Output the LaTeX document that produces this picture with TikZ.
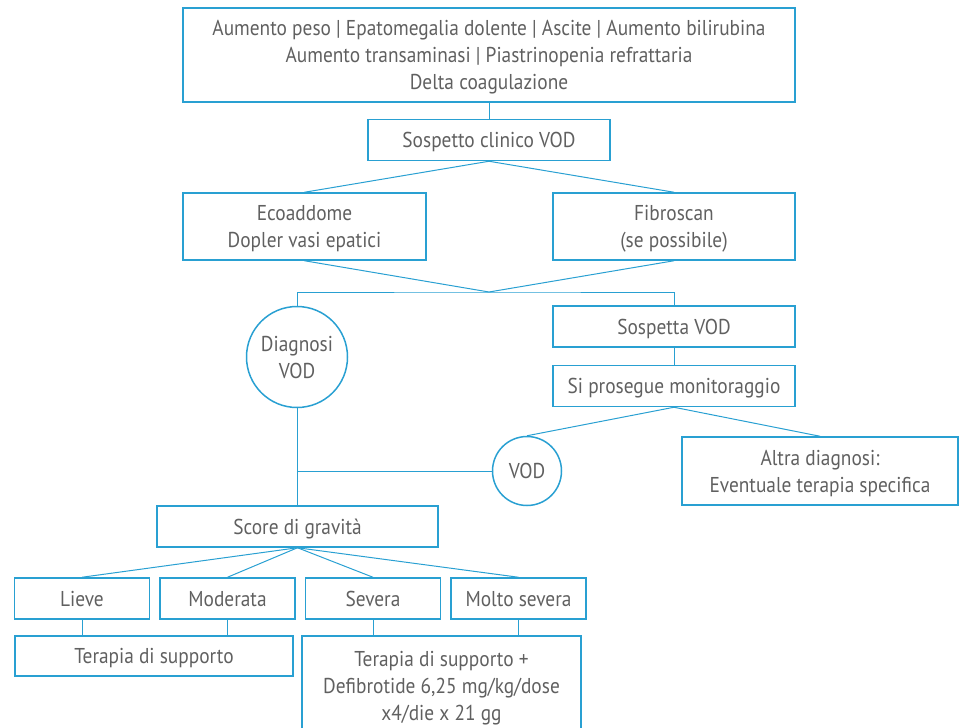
\documentclass[tikz,border=0pt]{standalone}
\usepackage{fontspec}
\setmainfont[FakeStretch=0.9]{PT Sans}
\usetikzlibrary
  {
    positioning,              % place nodes relative to other nodes
  }
\definecolor{linea}{HTML}{29A0D2}
\definecolor{testo}{HTML}{606060}

\begin{document}
\begin{tikzpicture}
    [
      x=1pt, y=-1pt,
      every node/.style=
        {
          font=\fontsize{21.5}{27}\selectfont,
          text=testo,
          align=center,
          inner sep=0pt,
          text depth=0pt,
        },
      casella/.style=
        {
          rectangle,
          draw=linea,
          line width=1.5pt,
          minimum height=41pt,
        },
      cerchio/.style=
        {
          circle,
          draw=linea,
          line width=1.5pt,
        },
      filo/.style=
        {
          draw=linea,
          line width=1pt,
        },
    ]
    \clip (0,0) rectangle (959,728);

    % parte alta
    \node[casella, minimum width=612pt, minimum height=94pt] (sintomi) at (489,55)
      {Aumento peso | Epatomegalia dolente | Ascite | Aumento bilirubina\\
       Aumento transaminasi | Piastrinopenia refrattaria\\
       Delta coagulazione};
    \node[casella, minimum width=242pt] (clinico) [below=16pt of sintomi] {Sospetto clinico VOD};
    \node[casella, minimum width=243pt, minimum height=67pt] (eco)   at (304.5,226.5)
      {Ecoaddome\\Dopler vasi epatici};
    \node[casella, minimum width=242pt, minimum height=67pt] (fibro) at (674,226.5)
      {Fibroscan\\(se possibile)};
    \coordinate (giunzione) at (489,292);

    % diagnosi
    \node[cerchio, minimum size=101pt] (diagnosi) at (297,357) {Diagnosi\\VOD};
    \node[casella, minimum width=242pt] (sospetta) at (674,326.5) {Sospetta VOD};
    \node[casella, minimum width=242pt] (prosegue) [below=17pt of sospetta] {Si prosegue monitoraggio};
    \node[cerchio, minimum size=69pt]  (vod)      at (527,471) {VOD};
    \node[casella, minimum width=276pt, minimum height=68pt] (altra) at (820,471)
      {Altra diagnosi:\\Eventuale terapia specifica};

    % gravita
    \node[casella, minimum width=281pt] (score) at (297.5,526.5) {Score di gravità};
    \node[casella, minimum width=135pt] (lieve)    at (82,598.5) {Lieve};
    \node[casella, minimum width=135pt] (moderata) [right=9pt of lieve]    {Moderata};
    \node[casella, minimum width=135pt] (severa)   [right=9pt of moderata] {Severa};
    \node[casella, minimum width=135pt] (molto)    [right=9pt of severa]   {Molto severa};
    \node[casella, minimum width=278pt, minimum height=40pt] (supporto) at (154,656) {Terapia di supporto};
    \node[casella, minimum width=279pt, minimum height=100pt] (defibro) at (441.5,686)
      {Terapia di supporto +\\Defibrotide 6,25 mg/kg/dose\\x4/die x 21 gg};

    \draw[filo] (sintomi) -- (clinico);
    \draw[filo] (eco.north) -- (clinico.south) -- (fibro.north);
    \draw[filo] (eco.south) -- (giunzione) -- (fibro.south);
    \draw[filo] (diagnosi.north) |- (giunzione) -| (sospetta.north);
    \draw[filo] (sospetta) -- (prosegue);
    \draw[filo] (vod.north) -- (prosegue.south) -- (altra.north);
    \draw[filo] (diagnosi.south) -- (diagnosi.south |- score.north);
    \draw[filo] (vod.west) -- (vod.west -| diagnosi.south);
    \foreach \grado in {lieve, moderata, severa, molto}
      \draw[filo] (score.south) -- (\grado.north);
    \draw[filo] (lieve.south) -- (lieve.south |- supporto.north);
    \draw[filo] (moderata.south) -- (moderata.south |- supporto.north);
    \draw[filo] (severa.south) -- (severa.south |- defibro.north);
    \draw[filo] (molto.south) -- (molto.south |- defibro.north);
\end{tikzpicture}
\end{document}
